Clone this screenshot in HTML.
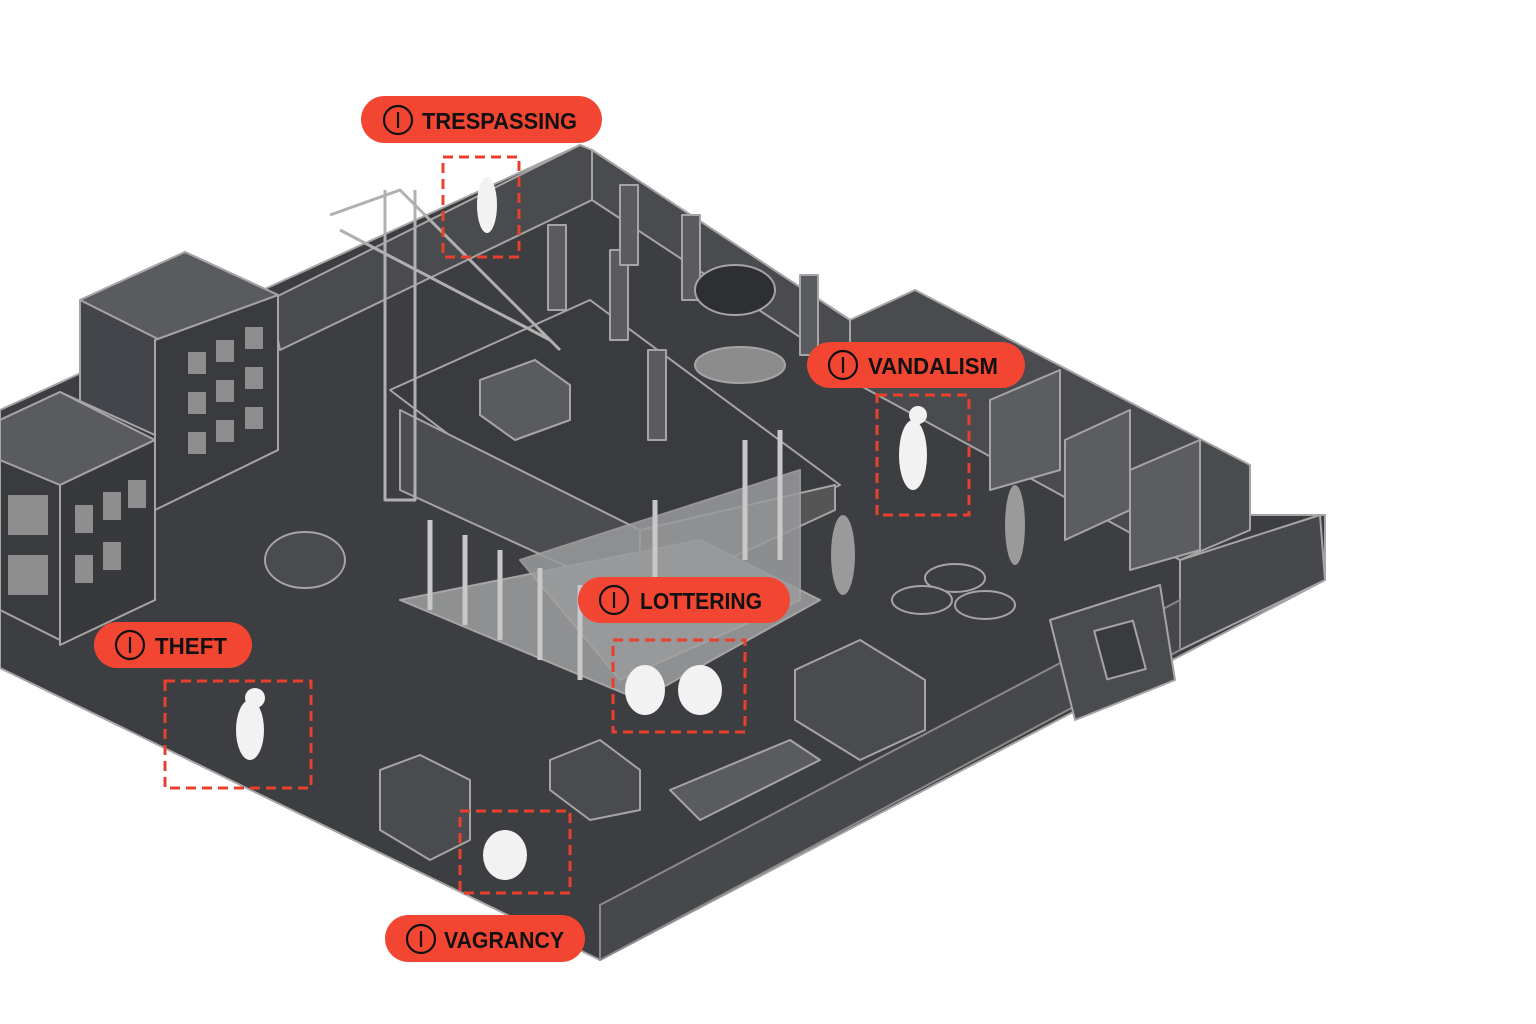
<!DOCTYPE html>
<html><head><meta charset="utf-8"><style>
html,body{margin:0;padding:0;background:#fff;}
svg{display:block}
.lbl{font-family:"Liberation Sans",sans-serif;font-weight:bold;font-size:23px;fill:#111}
</style></head><body>
<svg width="1536" height="1024" viewBox="0 0 1536 1024" xmlns="http://www.w3.org/2000/svg">
<g stroke="#a5a5a5" stroke-width="2" stroke-linejoin="round">
<polygon points="0,410 580,145 592,150 850,320 1250,515 1325,515 1325,580 600,960 0,668" fill="#3d3e41"/>
<polygon points="1180,560 1320,515 1325,580 1180,650" fill="#47484b"/>
<polygon points="600,960 1180,650 1180,600 600,905" fill="#47484b" stroke="#8a8a8a"/>
<polygon points="270,300 580,145 592,150 592,200 280,350" fill="#4a4b4e"/>
<polygon points="592,150 850,320 850,370 592,200" fill="#4a4b4e"/>
<polygon points="80,300 185,252 278,295 278,450 170,500 80,455" fill="#44454a"/>
<polygon points="80,300 185,252 278,295 170,345" fill="#5a5b5f"/>
<polygon points="155,340 278,295 278,450 155,510" fill="#3a3b3f"/>
<g fill="#8e8e8e" stroke="none">
<rect x="188" y="352" width="18" height="22"/><rect x="216" y="340" width="18" height="22"/><rect x="245" y="327" width="18" height="22"/>
<rect x="188" y="392" width="18" height="22"/><rect x="216" y="380" width="18" height="22"/><rect x="245" y="367" width="18" height="22"/>
<rect x="188" y="432" width="18" height="22"/><rect x="216" y="420" width="18" height="22"/><rect x="245" y="407" width="18" height="22"/>
</g>
<polygon points="0,420 60,392 155,435 155,600 60,640 0,610" fill="#3a3b3f"/>
<polygon points="0,420 60,392 155,440 60,485 0,460" fill="#5a5b5f"/>
<polygon points="60,485 155,440 155,600 60,645" fill="#38393d"/>
<g fill="#8e8e8e" stroke="none">
<rect x="75" y="505" width="18" height="28"/><rect x="103" y="492" width="18" height="28"/><rect x="128" y="480" width="18" height="28"/>
<rect x="75" y="555" width="18" height="28"/><rect x="103" y="542" width="18" height="28"/>
<rect x="8" y="495" width="40" height="40"/><rect x="8" y="555" width="40" height="40"/>
</g>
<polygon points="390,390 590,300 840,485 640,580" fill="#3a3b3f"/>
<polygon points="400,410 640,530 640,600 400,490" fill="#4c4d51"/>
<polygon points="640,530 835,485 835,510 640,600" fill="#555"/>
<polygon points="400,600 640,700 820,600 700,540" fill="#8f9092"/>
<polygon points="520,560 800,470 800,600 620,680" fill="#9a9b9d" opacity=".85"/>
<g stroke="#c8c8c8" stroke-width="5">
<line x1="430" y1="520" x2="430" y2="610"/><line x1="465" y1="535" x2="465" y2="625"/><line x1="500" y1="550" x2="500" y2="640"/>
<line x1="540" y1="568" x2="540" y2="660"/><line x1="580" y1="585" x2="580" y2="680"/><line x1="655" y1="500" x2="655" y2="580"/>
<line x1="745" y1="440" x2="745" y2="560"/><line x1="780" y1="430" x2="780" y2="560"/>
</g>
<g fill="#5a5b5f">
<rect x="548" y="225" width="18" height="85"/><rect x="610" y="250" width="18" height="90"/><rect x="620" y="185" width="18" height="80"/>
<rect x="682" y="215" width="18" height="85"/><rect x="800" y="275" width="18" height="80"/><rect x="648" y="350" width="18" height="90"/>
</g>
<g stroke="#b0b0b0" fill="none" stroke-width="3">
<polyline points="385,190 385,500 415,500 415,190"/>
<polyline points="330,215 400,190 560,350"/><line x1="340" y1="230" x2="550" y2="340"/>
</g>
<ellipse cx="740" cy="365" rx="45" ry="18" fill="#8c8c8c"/>
<ellipse cx="735" cy="290" rx="40" ry="25" fill="#2e2f32"/>
<polygon points="480,380 535,360 570,385 570,420 515,440 480,415" fill="#5a5b5f"/>
<polygon points="795,670 860,640 925,680 925,730 860,760 795,720" fill="#4a4b4f"/>
<polygon points="550,760 600,740 640,770 640,810 590,820 550,790" fill="#4a4b4f"/>
<polygon points="380,770 420,755 470,780 470,840 430,860 380,830" fill="#4a4b4f"/>
<ellipse cx="955" cy="578" rx="30" ry="14" fill="#3d3e41"/><ellipse cx="922" cy="600" rx="30" ry="14" fill="#3d3e41"/><ellipse cx="985" cy="605" rx="30" ry="14" fill="#3d3e41"/>
<polygon points="850,320 915,290 1250,465 1250,530 1180,560 850,380" fill="#4a4b4f"/>
<polygon points="990,400 1060,370 1060,470 990,490" fill="#5c5d61"/><polygon points="1065,440 1130,410 1130,510 1065,540" fill="#5c5d61"/><polygon points="1130,470 1200,440 1200,550 1130,570" fill="#5c5d61"/>
<polygon points="1050,620 1160,585 1175,680 1075,720" fill="#4a4b4f"/>
<rect x="1100" y="625" width="40" height="50" fill="#3a3b3f" transform="rotate(-15 1120 650)"/>
<ellipse cx="305" cy="560" rx="40" ry="28" fill="#4a4b4f"/>
<polygon points="670,790 790,740 820,760 700,820" fill="#5a5b5f"/>
</g>
<g fill="#f2f2f2">
<ellipse cx="487" cy="205" rx="10" ry="28"/>
<ellipse cx="913" cy="455" rx="14" ry="35"/><circle cx="918" cy="415" r="9"/>
<ellipse cx="250" cy="730" rx="14" ry="30"/><circle cx="255" cy="698" r="10"/>
<ellipse cx="645" cy="690" rx="20" ry="25"/><ellipse cx="700" cy="690" rx="22" ry="25"/>
<ellipse cx="505" cy="855" rx="22" ry="25"/>
</g>
<g fill="#9a9a9a"><ellipse cx="843" cy="555" rx="12" ry="40"/><ellipse cx="1015" cy="525" rx="10" ry="40"/></g>
<g fill="none" stroke="#e8402c" stroke-width="3" stroke-dasharray="10,6">
<rect x="443" y="157" width="76" height="100"/>
<rect x="877" y="395" width="92" height="120"/>
<rect x="613" y="640" width="132" height="92"/>
<rect x="165" y="681" width="146" height="107"/>
<rect x="460" y="811" width="110" height="82"/>
</g>
<g fill="#f24633">
<rect x="361" y="96" width="241" height="47" rx="23.5"/>
<rect x="807" y="342" width="218" height="46" rx="23"/>
<rect x="578" y="577" width="212" height="46" rx="23"/>
<rect x="94" y="622" width="158" height="46" rx="23"/>
<rect x="385" y="915" width="200" height="47" rx="23.5"/>
</g>
<g fill="none" stroke="#111" stroke-width="2.2">
<circle cx="398" cy="120" r="14"/><line x1="398" y1="112" x2="398" y2="128"/>
<circle cx="843" cy="365" r="14"/><line x1="843" y1="357" x2="843" y2="373"/>
<circle cx="614" cy="600" r="14"/><line x1="614" y1="592" x2="614" y2="608"/>
<circle cx="130" cy="645" r="14"/><line x1="130" y1="637" x2="130" y2="653"/>
<circle cx="421" cy="939" r="14"/><line x1="421" y1="931" x2="421" y2="947"/>
</g>
<text class="lbl" x="422" y="129" textLength="155" lengthAdjust="spacingAndGlyphs">TRESPASSING</text>
<text class="lbl" x="868" y="374" textLength="130" lengthAdjust="spacingAndGlyphs">VANDALISM</text>
<text class="lbl" x="640" y="609" textLength="122" lengthAdjust="spacingAndGlyphs">LOTTERING</text>
<text class="lbl" x="155" y="654" textLength="72" lengthAdjust="spacingAndGlyphs">THEFT</text>
<text class="lbl" x="444" y="948" textLength="120" lengthAdjust="spacingAndGlyphs">VAGRANCY</text>
</svg>
</body></html>
